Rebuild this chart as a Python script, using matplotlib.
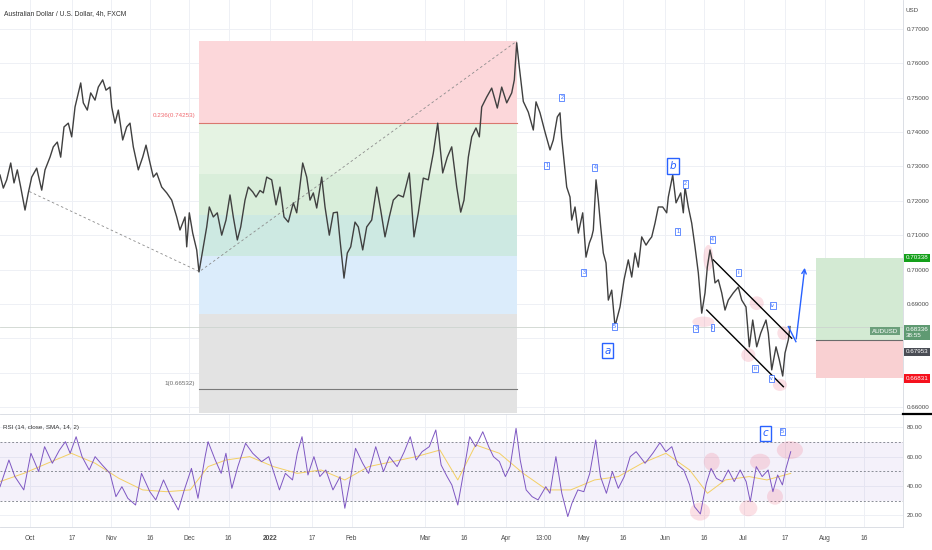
import numpy as np
import pandas as pd
import matplotlib
matplotlib.use("Agg")
import matplotlib.pyplot as plt
from matplotlib import font_manager
from matplotlib.patches import Ellipse
from matplotlib.lines import Line2D
from matplotlib.transforms import blended_transform_factory

# ── font ──────────────────────────────────────────────────────────────────────
_names = set(font_manager.get_font_names())
FONT = "Liberation Sans Narrow" if "Liberation Sans Narrow" in _names else "Liberation Sans"
plt.rcParams["font.family"] = [FONT, "DejaVu Sans"]

# ── data (x = days since 2021-10-01) ──────────────────────────────────────────
START = pd.Timestamp("2021-10-01")

price_days = [
    -11.48, -10.21, -8.91, -7.38, -6.12, -4.86, -3.56, -1.91, -0.65, 0.65,
    2.56, 4.48, 5.74, 7.65, 8.91, 10.44, 11.74, 13.01, 14.65, 15.95,
    17.22, 19.40, 20.39, 21.92, 23.22, 24.87, 26.13, 27.81, 29.07, 30.60,
    31.26, 32.52, 33.78, 35.46, 36.99, 38.26, 39.52, 41.43, 43.11, 44.38,
    45.64, 47.17, 48.47, 50.38, 52.30, 54.21, 56.12, 57.38, 59.30, 59.95,
    60.94, 62.24, 63.77, 64.65, 66.30, 67.60, 68.59, 70.12, 71.65, 73.34,
    74.98, 76.51, 77.77, 79.31, 80.61, 82.25, 83.51, 85.20, 86.46, 87.99,
    89.25, 90.55, 92.46, 94.11, 95.64, 97.17, 98.82, 100.73, 102.03, 104.32,
    105.85, 107.12, 108.38, 109.68, 111.59, 112.86, 114.50, 116.03, 117.56, 118.59,
    120.12, 121.39, 122.69, 124.33, 125.60, 127.28, 128.81, 130.72, 132.63, 134.16,
    135.81, 137.45, 138.98, 140.90, 142.81, 145.11, 146.90, 148.55, 150.46, 152.37,
    154.29, 155.97, 157.88, 159.64, 161.33, 163.24, 164.77, 166.03, 167.68, 168.98,
    170.62, 171.89, 172.80, 174.71, 176.63, 178.77, 180.45, 182.37, 184.28, 185.28,
    186.19, 187.19, 188.72, 190.63, 192.54, 193.58, 195.11, 197.02, 198.93, 200.19,
    201.72, 202.76, 203.41, 204.67, 205.32, 206.58, 207.23, 208.50, 209.76, 211.44,
    212.70, 213.97, 214.88, 215.50, 216.53, 217.41, 218.33, 219.32, 220.35, 221.24,
    222.54, 223.80, 225.71, 227.24, 228.88, 230.19, 231.45, 232.71, 234.01, 235.66,
    236.92, 237.84, 239.10, 240.36, 242.04, 243.57, 244.19, 245.87, 247.14, 248.93,
    249.93, 250.58, 251.84, 253.14, 254.40, 255.67, 256.97, 258.23, 259.11, 260.14,
    261.17, 262.05, 263.32, 264.62, 265.88, 267.14, 269.06, 270.97, 272.27, 273.91,
    275.18, 276.48, 278.01, 279.54, 281.56, 282.44, 283.75, 285.39, 286.65, 287.95,
    288.83, 290.09, 290.75,
]
price_vals = [
    0.7275, 0.7237, 0.7261, 0.7310, 0.7252, 0.7290, 0.7240, 0.7173, 0.7223, 0.7269,
    0.7295, 0.7231, 0.7290, 0.7327, 0.7357, 0.7371, 0.7327, 0.7415, 0.7426, 0.7386,
    0.7473, 0.7543, 0.7485, 0.7464, 0.7514, 0.7493, 0.7531, 0.7552, 0.7522, 0.7531,
    0.7473, 0.7426, 0.7464, 0.7377, 0.7415, 0.7426, 0.7357, 0.7290, 0.7327, 0.7362,
    0.7319, 0.7269, 0.7281, 0.7240, 0.7223, 0.7202, 0.7153, 0.7115, 0.7153, 0.7066,
    0.7165, 0.7106, 0.7057, 0.6993, 0.7066, 0.7124, 0.7182, 0.7153, 0.7165, 0.7100,
    0.7144, 0.7217, 0.7153, 0.7086, 0.7124, 0.7202, 0.7240, 0.7226, 0.7211, 0.7230,
    0.7223, 0.7269, 0.7261, 0.7188, 0.7240, 0.7153, 0.7138, 0.7194, 0.7165, 0.7310,
    0.7269, 0.7202, 0.7223, 0.7179, 0.7269, 0.7182, 0.7100, 0.7165, 0.7167, 0.7086,
    0.6975, 0.7048, 0.7066, 0.7138, 0.7124, 0.7057, 0.7124, 0.7144, 0.7240, 0.7173,
    0.7095, 0.7153, 0.7202, 0.7217, 0.7211, 0.7281, 0.7095, 0.7165, 0.7266, 0.7261,
    0.7339, 0.7426, 0.7281, 0.7327, 0.7357, 0.7240, 0.7167, 0.7202, 0.7327, 0.7386,
    0.7412, 0.7386, 0.7473, 0.7502, 0.7528, 0.7470, 0.7531, 0.7485, 0.7514, 0.7552,
    0.7660, 0.7589, 0.7489, 0.7458, 0.7406, 0.7488, 0.7456, 0.7400, 0.7348, 0.7377,
    0.7444, 0.7456, 0.7383, 0.7290, 0.7240, 0.7211, 0.7144, 0.7182, 0.7106, 0.7165,
    0.7036, 0.7077, 0.7095, 0.7115, 0.7261, 0.7202, 0.7124, 0.7048, 0.7019, 0.6911,
    0.6940, 0.6835, 0.6891, 0.6970, 0.7028, 0.6978, 0.7048, 0.7007, 0.7095, 0.7071,
    0.7086, 0.7095, 0.7135, 0.7182, 0.7182, 0.7165, 0.7211, 0.7275, 0.7194, 0.7223,
    0.7165, 0.7240, 0.7182, 0.7135, 0.7066, 0.6990, 0.6873, 0.6932, 0.7007, 0.7057,
    0.7019, 0.6961, 0.6970, 0.6932, 0.6882, 0.6911, 0.6932, 0.6949, 0.6911, 0.6891,
    0.6775, 0.6853, 0.6775, 0.6815, 0.6853, 0.6815, 0.6708, 0.6775, 0.6737, 0.6690,
    0.6757, 0.6795, 0.6834,
]

rsi_days = [
    -11.48, -8.07, -5.79, -2.38, 0.35, 3.31, 5.58, 8.54, 11.27, 13.54,
    15.36, 17.64, 19.91, 22.64, 24.91, 27.64, 30.60, 32.87, 35.15, 37.42,
    40.38, 42.65, 45.84, 48.11, 51.07, 53.34, 56.75, 59.03, 61.76, 64.26,
    66.99, 68.13, 70.86, 73.13, 74.95, 77.22, 79.50, 82.46, 85.19, 88.60,
    91.33, 93.60, 95.42, 97.69, 100.42, 102.24, 104.06, 106.33, 108.61, 110.88,
    113.16, 115.89, 118.62, 120.44, 122.71, 124.53, 127.26, 129.53, 132.26, 135.22,
    137.49, 140.45, 143.18, 145.46, 147.73, 150.01, 152.74, 155.24, 157.28, 159.56,
    161.38, 163.65, 165.47, 168.20, 170.47, 173.21, 175.48, 177.30, 179.57, 181.85,
    183.67, 185.94, 187.53, 189.81, 192.08, 194.36, 197.31, 198.90, 201.18, 203.45,
    205.73, 207.32, 209.59, 211.87, 214.14, 216.42, 218.24, 220.51, 222.79, 225.06,
    227.34, 229.61, 231.88, 235.30, 238.25, 240.98, 243.26, 245.53, 247.80, 250.08,
    252.35, 254.17, 256.45, 258.72, 260.54, 262.59, 264.86, 267.14, 269.41, 271.68,
    273.96, 275.55, 277.83, 280.10, 282.37, 284.20, 286.02, 287.84, 289.20, 291.02,
]
rsi_vals = [
    39.5, 57.7, 46.4, 37.3, 62.3, 49.8, 66.8, 55.5, 64.5, 70.2,
    62.3, 73.6, 60.0, 50.9, 60.0, 54.3, 48.6, 32.7, 39.5, 31.6,
    27.0, 48.6, 36.1, 30.5, 44.1, 35.0, 23.6, 37.3, 52.0, 31.6,
    60.0, 70.2, 57.7, 48.6, 62.3, 38.4, 53.2, 69.1, 62.3, 56.6,
    60.0, 47.5, 37.3, 48.6, 44.1, 62.3, 73.6, 47.5, 60.0, 46.4,
    50.9, 37.3, 46.4, 24.8, 46.4, 65.7, 55.5, 48.6, 66.8, 49.8,
    60.0, 53.2, 63.4, 73.6, 57.7, 63.4, 66.8, 78.2, 54.3, 46.4,
    40.7, 27.0, 45.2, 73.6, 66.8, 77.0, 66.8, 60.0, 56.6, 46.4,
    53.2, 79.3, 57.7, 37.3, 32.7, 30.5, 39.5, 35.0, 60.0, 35.0,
    19.1, 28.2, 37.3, 36.1, 48.6, 71.4, 46.4, 35.0, 49.8, 38.4,
    46.4, 60.0, 63.4, 55.5, 62.3, 69.5, 63.4, 66.8, 54.3, 50.9,
    40.7, 25.9, 20.9, 41.8, 52.0, 45.2, 43.0, 50.9, 43.0, 50.9,
    43.0, 29.3, 53.2, 46.4, 50.9, 36.1, 47.5, 40.7, 52.0, 63.4,
]

sma_days = [
    -11.48, -2.38, 6.72, 15.81, 24.91, 34.01, 43.11, 52.21, 61.30, 68.13,
    74.95, 84.05, 93.15, 102.24, 111.34, 120.44, 129.53, 138.63, 147.73, 156.83,
    163.65, 170.47, 179.57, 188.67, 197.77, 206.86, 215.96, 225.06, 234.16, 243.26,
    252.35, 259.17, 266.00, 275.10, 281.92, 291.02,
]
sma_vals = [
    43.0, 48.6, 55.5, 62.3, 55.5, 45.2, 37.3, 36.1, 37.3, 53.2,
    57.7, 60.0, 53.2, 48.6, 50.9, 44.1, 53.2, 56.6, 60.0, 64.5,
    44.1, 68.0, 62.3, 48.6, 37.3, 37.3, 44.1, 46.4, 55.5, 62.3,
    50.9, 35.0, 44.1, 46.4, 44.1, 48.6,
]

tick_dates = ["2021-10-01", "2021-10-17", "2021-11-01", "2021-11-16", "2021-12-01",
              "2021-12-16", "2022-01-01", "2022-01-17", "2022-02-01", "2022-03-01",
              "2022-03-16", "2022-04-01", "2022-04-15 13:00", "2022-05-01", "2022-05-16",
              "2022-06-01", "2022-06-16", "2022-07-01", "2022-07-17", "2022-08-01",
              "2022-08-16"]
tick_labels = ["Oct", "17", "Nov", "16", "Dec", "16", "2022", "17", "Feb", "Mar",
               "16", "Apr", "13:00", "May", "16", "Jun", "16", "Jul", "17", "Aug", "16"]

price_ticks = [0.66, 0.67, 0.68, 0.69, 0.70, 0.71, 0.72, 0.73, 0.74, 0.75, 0.76, 0.77]
hidden_ticks = [0.67, 0.68]          # covered by price badges in the original
rsi_ticks = [20, 40, 60, 80]

# fibonacci retracement
fib_start, fib_end = 64.65, 186.3
fib_levels = [0.76637, 0.74253, 0.72777, 0.71585, 0.70392, 0.68694, 0.66532]
fib_colors = ["#fcd7da", "#e5f3e3", "#d9eeda", "#cde9e2", "#dbecfb", "#e3e3e3"]

# trend (dashed) lines
trend_days = [-0.27, 64.8, 186.3]
trend_vals = [0.7227, 0.6994, 0.7665]

# channel
chan_upper = ([261.4, 291.4], [0.7028, 0.6800])
chan_lower = ([258.9, 288.2], [0.6882, 0.6659])

# projection arrow
proj_days = [290.1, 293.0, 296.5]
proj_vals = [0.6834, 0.6790, 0.7013]

# long position
pos_start, pos_end = 300.7, 334.0
target, entry, stop, last = 0.70338, 0.67953, 0.66831, 0.68336

# wave labels (text, day, price, big)
waves = [
    ("2", 203.4, 0.7501, False), ("1", 197.7, 0.7304, False), ("4", 216.1, 0.7296, False),
    ("3", 211.9, 0.6991, False), ("5", 223.5, 0.6833, False), ("a", 221.0, 0.6764, True),
    ("b", 246.1, 0.7301, True), ("2", 250.6, 0.7249, False), ("1", 247.8, 0.7110, False),
    ("4", 261.0, 0.7088, False), ("3", 254.7, 0.6829, False), ("i", 261.0, 0.6832, False),
    ("ii", 271.0, 0.6991, False), ("iii", 277.4, 0.6713, False), ("iv", 284.1, 0.6894, False),
    ("v", 283.7, 0.6683, False),
]
rsi_waves = [("c", 281.2, 75.9, True), ("5", 287.8, 77.0, False)]

# highlight spots (day, value, width, height)
price_spots = [(257.6, 0.6848, 8.4, 0.0030), (259.5, 0.7034, 3.8, 0.0075),
               (278.0, 0.6902, 5.4, 0.0040), (274.8, 0.6751, 5.4, 0.0040),
               (286.9, 0.6664, 5.4, 0.0035), (288.2, 0.6815, 4.6, 0.0040)]
rsi_spots = [(256.3, 22.5, 7.7, 12.3), (260.8, 56.5, 6.1, 12.3), (274.8, 24.8, 6.9, 11.0),
             (279.3, 56.5, 7.7, 11.0), (285.0, 32.7, 6.1, 11.0), (290.7, 64.5, 10.0, 12.3)]


def day_of(s):
    return (pd.Timestamp(s) - START) / pd.Timedelta(days=1)


tick_pos = [day_of(s) for s in tick_dates]

# ── figure ────────────────────────────────────────────────────────────────────
W, H = 932, 550
fig = plt.figure(figsize=(W / 100, H / 100), dpi=100)
ax = fig.add_axes([0, 1 - 413 / H, 903 / W, 413 / H])
ax2 = fig.add_axes([0, 1 - 527 / H, 903 / W, 113 / H])

XLIM = (-11.48, 333.97)
GRID = "#eef0f5"
TXT = "#4a4a4a"
FS = 4.5
BLUE = "#2962ff"

for a in (ax, ax2):
    a.set_xlim(*XLIM)
    a.set_xticks(tick_pos)
    for s in ("top", "left", "bottom"):
        a.spines[s].set_visible(False)
    a.spines["right"].set_color("#d6d9e0")
    a.spines["right"].set_linewidth(0.6)
    a.yaxis.tick_right()
    a.tick_params(length=0, labelsize=FS, labelcolor=TXT, pad=2.5)
    a.grid(True, color=GRID, lw=0.7)
    a.set_axisbelow(True)

ax.set_ylim(0.65824, 0.77844)
ax.set_yticks(price_ticks)
ax.set_yticklabels(["" if v in hidden_ticks else f"{v:.5f}" for v in price_ticks])
ax.set_xticklabels([])

# fib zones
for i, c in enumerate(fib_colors):
    lo = fib_levels[i + 1] if i + 1 < len(fib_colors) else ax.get_ylim()[0]
    ax.fill_between([fib_start, fib_end], lo, fib_levels[i], color=c, lw=0, zorder=1)
ax.plot([fib_start, fib_end], [fib_levels[1]] * 2, color="#d9776f", lw=0.8, zorder=2)
ax.plot([fib_start, fib_end], [fib_levels[-1]] * 2, color="#7a7a7a", lw=0.8, zorder=2)
ax.text(fib_start - 1.5, 0.7447, "0.236(0.74253)", ha="right", va="center",
        fontsize=FS, color="#f06a70")
ax.text(fib_start - 1.5, 0.6668, "1(0.66532)", ha="right", va="center",
        fontsize=FS, color="#6a6a6a")

# trend lines
ax.plot(trend_days, trend_vals, color="#8c8c8c", lw=0.6, ls=(0, (3, 3)), zorder=3)

# current price line
ax.axhline(last, color="#cdd4cf", lw=0.6, zorder=2)

# long position box
ax.fill_between([pos_start, pos_end], entry, target, color="#d3ead3", lw=0, zorder=1)
ax.fill_between([pos_start, pos_end], stop, entry, color="#f9d0d2", lw=0, zorder=1)
ax.plot([pos_start, pos_end], [entry, entry], color="#6b6b6b", lw=0.8, zorder=2)

# highlight spots
for d, v, w, h in price_spots:
    ax.add_patch(Ellipse((d, v), w, h, fc=(0.94, 0.45, 0.55, 0.22), ec="none", zorder=2))

# price
ax.plot(price_days, price_vals, color="#404040", lw=1.0, zorder=4)

# channel + projection
ax.plot(*chan_upper, color="black", lw=1.0, zorder=5)
ax.plot(*chan_lower, color="black", lw=1.0, zorder=5)
ax.plot(proj_days[:2], proj_vals[:2], color=BLUE, lw=1.0, zorder=5)
ax.annotate("", xy=(proj_days[2], proj_vals[2]), xytext=(proj_days[1], proj_vals[1]),
            arrowprops=dict(arrowstyle="->", color=BLUE, lw=1.0, mutation_scale=8),
            zorder=5)


def wave_label(a, s, d, v, big):
    if big:
        a.text(d, v, s, ha="center", va="center", fontsize=7.5, style="italic",
               color=BLUE, zorder=6, family="DejaVu Sans",
               bbox=dict(boxstyle="square,pad=0.25", fc="white", ec=BLUE, lw=1.0))
    else:
        a.text(d, v, s, ha="center", va="center", fontsize=3.8, color=BLUE, zorder=6,
               bbox=dict(boxstyle="square,pad=0.2", fc="white", ec=BLUE, lw=0.5))


for s, d, v, big in waves:
    wave_label(ax, s, d, v, big)

# right axis badges
tr = blended_transform_factory(ax.transAxes, ax.transData)


def badge(y, text, fc, x=1.003, ha="left"):
    ax.text(x, y, text, transform=tr, ha=ha, va="center", fontsize=FS, color="white",
            zorder=10, clip_on=False, linespacing=1.3,
            bbox=dict(boxstyle="square,pad=0.3", fc=fc, ec="none"))


badge(target, f"{target:.5f}", "#14a01a")
badge(0.6816, f"{last:.5f}\n38:55", "#5f9a72")
badge(0.6760, f"{entry:.5f}", "#4a4d55")
badge(stop, f"{stop:.5f}", "#f5121e")
badge(0.6821, "AUDUSD", "#6b9f7b", x=0.995, ha="right")

# ── RSI pane ──────────────────────────────────────────────────────────────────
ax2.set_ylim(12, 89.1)
ax2.set_yticks(rsi_ticks)
ax2.set_yticklabels([f"{v:.2f}" for v in rsi_ticks])
ax2.set_xticklabels(tick_labels)
ax2.tick_params(axis="x", pad=6, labelsize=4.8)
for lbl in ax2.get_xticklabels():
    if lbl.get_text() == "2022":
        lbl.set_fontweight("bold")
ax2.spines["bottom"].set_visible(True)
ax2.spines["bottom"].set_color("#d6d9e0")
ax2.spines["bottom"].set_linewidth(0.6)

ax2.axhspan(30, 70, color=(126 / 255, 87 / 255, 194 / 255), alpha=0.08, lw=0, zorder=1)
for lv in (70, 50, 30):
    ax2.axhline(lv, color="#8a8d96", lw=0.7, ls=(0, (2, 2)), zorder=2)
for d, v, w, h in rsi_spots:
    ax2.add_patch(Ellipse((d, v), w, h, fc=(0.94, 0.45, 0.55, 0.22), ec="none", zorder=2))
ax2.plot(sma_days, sma_vals, color="#f3cf63", lw=0.7, zorder=3)
ax2.plot(rsi_days, rsi_vals, color="#7e57c2", lw=0.7, zorder=4)
for s, d, v, big in rsi_waves:
    wave_label(ax2, s, d, v, big)

# ── texts & separators ────────────────────────────────────────────────────────
fig.text(4 / W, 1 - 14 / H, "Australian Dollar / U.S. Dollar, 4h, FXCM",
         fontsize=4.9, color="#333333", va="center")
fig.text(3 / W, 1 - 428 / H, "RSI (14, close, SMA, 14, 2)",
         fontsize=FS, color="#333333", va="center")
fig.text(906 / W, 1 - 10 / H, "USD", fontsize=FS, color=TXT, va="center")
fig.add_artist(Line2D([0, 903 / W], [1 - 413.5 / H] * 2, color="#d6d9e0", lw=0.6))
fig.add_artist(Line2D([903 / W, 1], [1 - 413.5 / H] * 2, color="black", lw=1.6))

fig.savefig("out.png", dpi=100)
